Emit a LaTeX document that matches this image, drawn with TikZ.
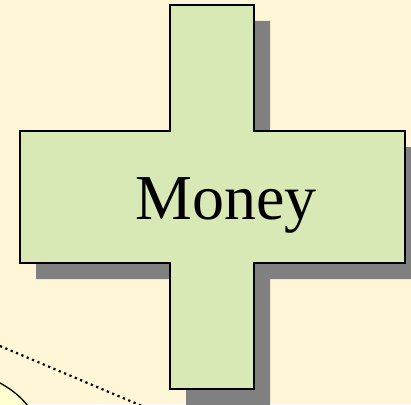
\documentclass[tikz,border=0pt]{standalone}
\usepackage{fontspec}
\setmainfont{Liberation Serif}
\definecolor{bgcream}{RGB}{255,246,216}
\definecolor{crossgreen}{RGB}{217,233,181}
\definecolor{shadowgray}{RGB}{128,128,128}
\definecolor{paleyellow}{RGB}{255,255,208}
\begin{document}
\begin{tikzpicture}[
        x=1pt, y=-1pt,
        crossline/.style={draw=black, line width=1.3pt, fill=crossgreen},
        crossshadow/.style={fill=shadowgray},
        label/.style={font=\fontsize{64}{64}\selectfont},
    ]
        % Background
        \fill[bgcream] (0,0) rectangle (411,404);
        \useasboundingbox (0,0) rectangle (411,404);

        % Shadow of the cross
        \fill[crossshadow, shift={(16,16)}] (170,5) -- (254,5) -- (254,131) -- (405,131) -- (405,263)
            -- (254,263) -- (254,389) -- (170,389) -- (170,263) -- (20,263) -- (20,131) -- (170,131) -- cycle;

        % The cross
        \draw[crossline] (170,5) -- (254,5) -- (254,131) -- (405,131) -- (405,263)
            -- (254,263) -- (254,389) -- (170,389) -- (170,263) -- (20,263) -- (20,131) -- (170,131) -- cycle;
        \node[label] (money) at (226,205) {Money};

        % Bottom-left corner: dotted line and curved shape
        \coordinate (dotA) at (0,346);
        \coordinate (dotB) at (142,406);
        \draw[line width=2.2pt, dash pattern=on 2.2pt off 3.6pt] (dotA) -- (dotB);
        \draw[line width=1.3pt, fill=paleyellow] (-2,382) .. controls (10,388) and (20,396) .. (28,406) -- (-2,406) -- cycle;
    \end{tikzpicture}
\end{document}
